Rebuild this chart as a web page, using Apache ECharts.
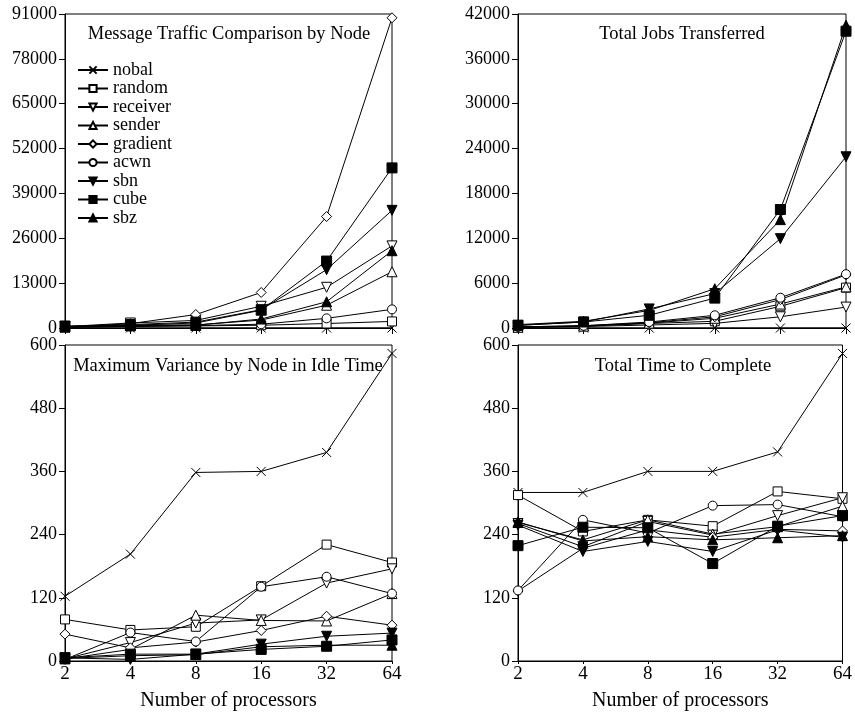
<!DOCTYPE html>
<html>
<head>
<meta charset="utf-8">
<script src="https://cdn.jsdelivr.net/npm/echarts@6/dist/echarts.min.js"></script>
<style>html,body{margin:0;padding:0;background:#fff;}#c{width:855px;height:713px;}</style>
</head>
<body>
<div id="c"></div>
<script>
const categories = ['2','4','8','16','32','64'];
const seriesNames = ['nobal','random','receiver','sender','gradient','acwn','sbn','cube','sbz'];
const panelTitles = ['Message Traffic Comparison by Node','Total Jobs Transferred','Maximum Variance by Node in Idle Time','Total Time to Complete'];
const yMax = [91000, 42000, 600, 600];
const yStep = [13000, 6000, 120, 120];

// Message traffic
const traffic_nobal    = [0, 0, 0, 0, 0, 0];
const traffic_random   = [200, 500, 600, 800, 1300, 1900];
const traffic_receiver = [400, 1450, 2200, 6300, 11800, 23800];
const traffic_sender   = [300, 800, 900, 2300, 6600, 16300];
const traffic_gradient = [300, 1250, 3900, 10300, 32300, 89900];
const traffic_acwn     = [200, 400, 700, 1100, 2800, 5400];
const traffic_sbn      = [400, 1000, 1700, 5300, 16900, 34100];
const traffic_cube     = [580, 770, 1450, 5150, 19400, 46400];
const traffic_sbz      = [300, 700, 800, 2600, 7600, 22400];

// Total jobs transferred
const jobs_nobal    = [0, 0, 0, 0, 0, 0];
const jobs_random   = [100, 250, 600, 900, 2900, 5400];
const jobs_receiver = [80, 200, 400, 620, 1500, 2800];
const jobs_sender   = [100, 250, 650, 1300, 3200, 5500];
const jobs_gradient = [150, 300, 700, 1500, 3800, 7100];
const jobs_acwn     = [150, 300, 800, 1700, 4050, 7200];
const jobs_sbn      = [360, 800, 2550, 4600, 11950, 22900];
const jobs_cube     = [360, 800, 1700, 4000, 15850, 39700];
const jobs_sbz      = [450, 900, 2350, 5250, 14500, 40500];

// Maximum variance in idle time
const variance_nobal    = [123, 203, 358, 360, 396, 584];
const variance_random   = [79, 59, 65, 142, 221, 187];
const variance_receiver = [4, 35, 72, 78, 148, 175];
const variance_sender   = [4, 22, 87, 77, 76, 128];
const variance_gradient = [51, 25, 36, 58, 85, 68];
const variance_acwn     = [3, 54, 37, 141, 160, 128];
const variance_sbn      = [6, 3, 13, 32, 47, 53];
const variance_cube     = [6, 13, 13, 22, 28, 40];
const variance_sbz      = [5, 10, 12, 27, 30, 30];

// Total time to complete
const time_nobal    = [320, 320, 360, 360, 397, 584];
const time_random   = [315, 246, 268, 256, 322, 308];
const time_receiver = [261, 217, 265, 239, 276, 310];
const time_sender   = [263, 230, 268, 241, 255, 294];
const time_gradient = [133, 214, 249, 235, 250, 247];
const time_acwn     = [134, 268, 243, 295, 297, 274];
const time_sbn      = [258, 208, 227, 208, 249, 235];
const time_cube     = [219, 254, 253, 185, 256, 276];
const time_sbz      = [264, 228, 236, 230, 234, 238];

const panels = [
  [traffic_nobal, traffic_random, traffic_receiver, traffic_sender, traffic_gradient, traffic_acwn, traffic_sbn, traffic_cube, traffic_sbz],
  [jobs_nobal, jobs_random, jobs_receiver, jobs_sender, jobs_gradient, jobs_acwn, jobs_sbn, jobs_cube, jobs_sbz],
  [variance_nobal, variance_random, variance_receiver, variance_sender, variance_gradient, variance_acwn, variance_sbn, variance_cube, variance_sbz],
  [time_nobal, time_random, time_receiver, time_sender, time_gradient, time_acwn, time_sbn, time_cube, time_sbz]
];

const X_PATH = 'path://M0,0L10,10M10,0L0,10';
const markers = [
  {symbol: X_PATH, size: 9, rotate: 0, filled: false},
  {symbol: 'rect', size: 9, rotate: 0, filled: false},
  {symbol: 'triangle', size: 10, rotate: 180, filled: false},
  {symbol: 'triangle', size: 10, rotate: 0, filled: false},
  {symbol: 'diamond', size: 10, rotate: 0, filled: false},
  {symbol: 'circle', size: 9, rotate: 0, filled: false},
  {symbol: 'triangle', size: 10, rotate: 180, filled: true},
  {symbol: 'rect', size: 10, rotate: 0, filled: true},
  {symbol: 'triangle', size: 10, rotate: 0, filled: true}
];

const FONT = 'Liberation Serif';
const grids = [
  {left: 65, top: 14, width: 327, height: 314},
  {left: 518, top: 14, width: 328, height: 314},
  {left: 65, top: 345, width: 327, height: 316},
  {left: 518, top: 345, width: 328, height: 316}
].map(g => Object.assign({show: true, borderColor: '#000', borderWidth: 1, backgroundColor: 'transparent'}, g));

const titleCenters = [[224, 20], [677, 20], [223, 352], [678, 352]];

const xAxes = grids.map((g, i) => ({
  type: 'category', gridIndex: i, data: categories, boundaryGap: false,
  axisLine: {lineStyle: {color: '#000', width: 1}},
  axisTick: {show: true, length: i >= 2 ? 3 : 6, lineStyle: {color: '#000'}, alignWithLabel: true},
  axisLabel: {show: i >= 2, color: '#000', fontSize: 19, fontFamily: FONT, margin: 4},
  name: i >= 2 ? 'Number of processors' : '',
  nameLocation: 'middle', nameGap: 30,
  nameTextStyle: {color: '#000', fontSize: 20, fontFamily: FONT},
  splitLine: {show: false}
}));

const yAxes = grids.map((g, i) => ({
  type: 'value', gridIndex: i, min: 0, max: yMax[i], interval: yStep[i],
  axisLine: {show: true, lineStyle: {color: '#000', width: 1}},
  axisTick: {show: true, length: 6, lineStyle: {color: '#000'}},
  axisLabel: {color: '#000', fontSize: 18, fontFamily: FONT, margin: 8, formatter: v => String(v)},
  splitLine: {show: false}
}));

const series = [];
panels.forEach((arrs, p) => {
  arrs.forEach((data, k) => {
    const m = markers[k];
    series.push({
      type: 'line', name: seriesNames[k], xAxisIndex: p, yAxisIndex: p,
      data: data, symbol: m.symbol, symbolSize: m.size, symbolRotate: m.rotate,
      showSymbol: true, showAllSymbol: true, animation: false,
      lineStyle: {color: '#000', width: 1},
      itemStyle: {color: m.filled ? '#000' : '#fff', borderColor: '#000', borderWidth: 1},
      emphasis: {disabled: true}
    });
  });
});

const chart = echarts.init(document.getElementById('c'), null, {renderer: 'canvas'});
chart.setOption({
  backgroundColor: '#fff',
  animation: false,
  title: panelTitles.map((t, i) => ({
    text: t, left: titleCenters[i][0], top: titleCenters[i][1], textAlign: 'center',
    textStyle: {color: '#000', fontSize: 18.5, fontWeight: 'normal', fontFamily: FONT}
  })),
  legend: {
    data: seriesNames, orient: 'vertical', left: 72, top: 56,
    itemWidth: 30, itemHeight: 9, itemGap: 0.5,
    textStyle: {color: '#000', fontSize: 18, fontFamily: FONT, lineHeight: 18},
    selectedMode: false
  },
  grid: grids,
  xAxis: xAxes,
  yAxis: yAxes,
  series: series
});
</script>
</body>
</html>
